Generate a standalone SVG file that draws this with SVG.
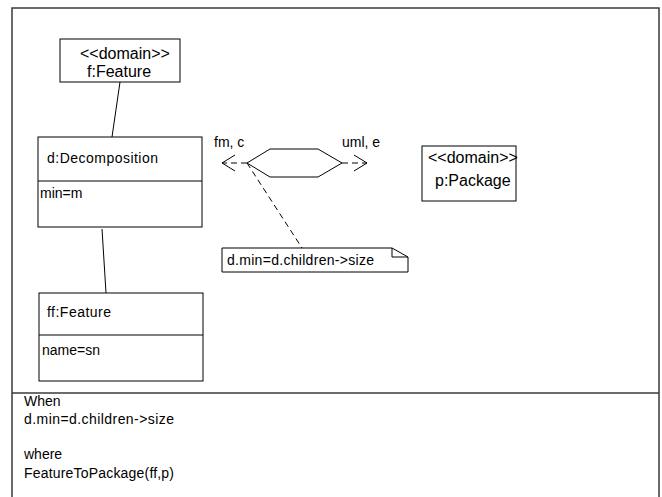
<svg xmlns="http://www.w3.org/2000/svg" width="662" height="497" viewBox="0 0 662 497">
  <style>
    .frame { fill: none; stroke: #3a3a3a; stroke-width: 1.5; }
    .box { fill: #ffffff; stroke: #000000; stroke-width: 1; }
    .link { fill: none; stroke: #000000; stroke-width: 1; }
    .dash { fill: none; stroke: #000000; stroke-width: 1; stroke-dasharray: 6 4; }
    .head { fill: none; stroke: #000000; stroke-width: 1; }
    .arial { font-family: "Liberation Sans", Arial, sans-serif; font-size: 16px; fill: #000000; }
    .cal { font-family: "Liberation Sans", Arial, sans-serif; font-size: 14px; fill: #000000; }
  </style>

  <!-- relation frame with the where/when compartment -->
  <g id="frame">
    <rect class="frame" x="12" y="8" width="647" height="495"/>
    <line class="frame" x1="12" y1="393" x2="659" y2="393"/>
  </g>

  <!-- connectors -->
  <g id="connectors">
    <line class="link" x1="120" y1="82" x2="112" y2="137"/>
    <line class="link" x1="102" y1="229" x2="106" y2="293"/>
    <line class="dash" x1="247" y1="163" x2="222" y2="163"/>
    <polyline class="head" points="235,155 222,163 235,171"/>
    <line class="dash" x1="342" y1="163" x2="367" y2="163"/>
    <polyline class="head" points="354,155 367,163 354,171"/>
    <line class="dash" x1="247" y1="163" x2="302" y2="248"/>
    <text class="cal" x="214" y="147" font-size="13.5">fm, c</text>
    <text class="cal" x="342" y="147" font-size="13.5">uml, e</text>
  </g>

  <g id="f-feature">
    <rect class="box" x="60" y="39" width="120" height="43"/>
    <text class="arial" x="80" y="59">&lt;&lt;domain&gt;&gt;</text>
    <text class="arial" x="87" y="77">f:Feature</text>
  </g>

  <g id="d-decomposition">
    <rect class="box" x="38" y="137" width="164" height="90"/>
    <line class="link" x1="38" y1="181" x2="202" y2="181"/>
    <text class="cal" x="47" y="163" textLength="111">d:Decomposition</text>
    <text class="cal" x="40" y="198">min=m</text>
  </g>

  <g id="ff-feature">
    <rect class="box" x="39" y="293" width="164" height="88"/>
    <line class="link" x1="39" y1="335" x2="203" y2="335"/>
    <text class="cal" x="47" y="317" textLength="64">ff:Feature</text>
    <text class="cal" x="42" y="355">name=sn</text>
  </g>

  <g id="transformation">
    <polygon class="box" stroke-width="1.5" points="247,163 270,149 318,149 342,163 318,177 270,177"/>
  </g>

  <g id="p-package">
    <rect class="box" x="422" y="146" width="94" height="55"/>
    <text class="arial" x="428" y="163">&lt;&lt;domain&gt;&gt;</text>
    <text class="arial" x="435" y="186">p:Package</text>
  </g>

  <g id="note">
    <polygon class="box" points="222,248 392,248 408,257 408,272 222,272"/>
    <polyline class="link" points="392,248 392,257 408,257" stroke="none"/>
    <text class="cal" x="227" y="265" textLength="147">d.min=d.children-&gt;size</text>
  </g>

  <g id="conditions">
    <text class="cal" x="24" y="406">When</text>
    <text class="cal" x="24" y="424" textLength="150">d.min=d.children-&gt;size</text>
    <text class="cal" x="24" y="459">where</text>
    <text class="cal" x="24" y="478" textLength="150">FeatureToPackage(ff,p)</text>
  </g>
</svg>
